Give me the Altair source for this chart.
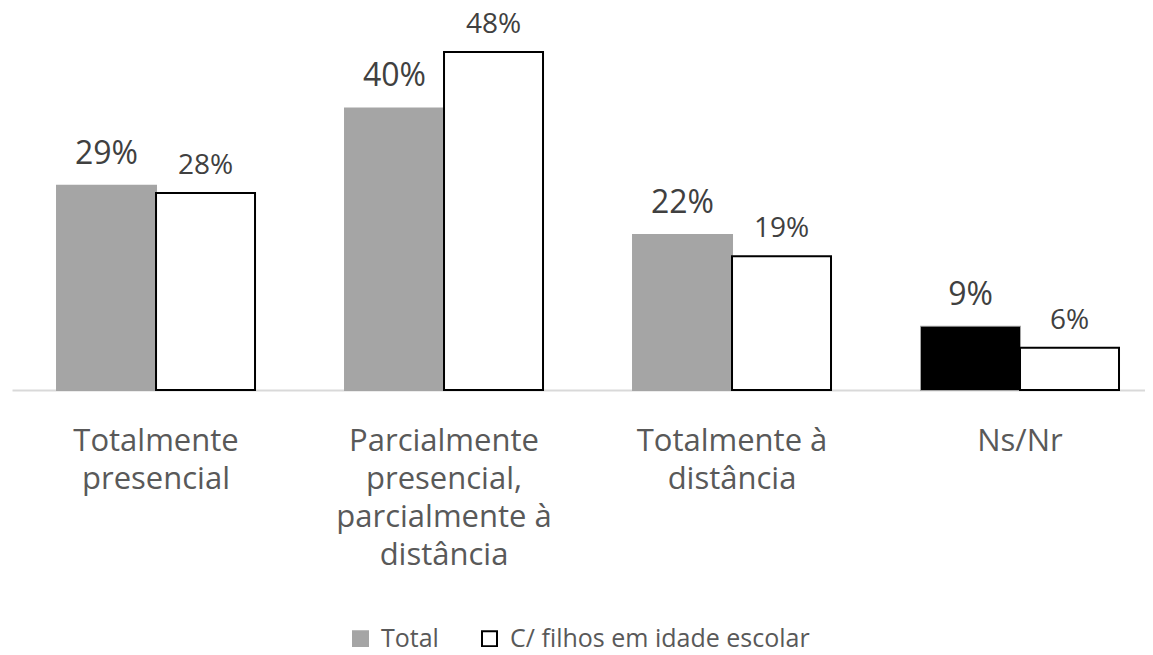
import altair as alt
import pandas as pd

categories = ["Totalmente|presencial",
              "Parcialmente|presencial,|parcialmente à|distância",
              "Totalmente à|distância",
              "Ns/Nr"]
series_names = ["Total", "C/ filhos em idade escolar"]
total_vals = [29, 40, 22, 9]
filhos_vals = [28, 48, 19, 6]

rows = []
for c, t, f in zip(categories, total_vals, filhos_vals):
    rows.append({"cat": c, "series": series_names[0], "value": t, "label": f"{t}%"})
    rows.append({"cat": c, "series": series_names[1], "value": f, "label": f"{f}%"})
df = pd.DataFrame(rows)

xscale = alt.Scale(domain=categories, paddingInner=0.3125, paddingOuter=0.1233, align=0.634)
xenc = alt.X("cat:N", sort=categories, scale=xscale,
             axis=alt.Axis(title=None, ticks=False, labelAngle=0,
                           labelExpr="split(datum.label, '|')",
                           labelFont="Open Sans", labelFontSize=31, labelColor="#595959",
                           labelLineHeight=38, labelPadding=36,
                           domainColor="#d9d9d9", domainWidth=2, labelLimit=400))
yenc = alt.Y("value:Q", scale=alt.Scale(domain=[0, 50], nice=False), axis=None)
xoff = alt.XOffset("series:N", sort=series_names,
                   scale=alt.Scale(domain=series_names, paddingInner=0, paddingOuter=0))

base = alt.Chart(df)

bars = base.mark_bar(strokeWidth=2).encode(
    x=xenc, y=yenc, xOffset=xoff,
    fill=alt.Fill("series:N", scale=alt.Scale(domain=series_names, range=["#a5a5a5", "#ffffff"]),
                  legend=alt.Legend(title=None, orient="none", direction="horizontal",
                                    legendX=336, legendY=588, padding=0,
                                    symbolType="square", symbolSize=225,
                                    symbolStrokeWidth=2, labelFont="Open Sans", labelFontSize=25,
                                    labelColor="#595959", columnPadding=38, labelOffset=8,
                                    labelLimit=500)),
    stroke=alt.Stroke("series:N", scale=alt.Scale(domain=series_names, range=["#a5a5a5", "#000000"])),
)

black = base.transform_filter(
    (alt.datum.cat == "Ns/Nr") & (alt.datum.series == "Total")
).mark_bar(color="#000000").encode(x=xenc, y=yenc, xOffset=xoff)

labels_total = base.transform_filter(alt.datum.series == series_names[0]).mark_text(
    baseline="alphabetic", dy=-22, font="Open Sans", fontSize=32, color="#404040"
).encode(x=xenc, y=yenc, xOffset=xoff, text="label:N")

labels_filhos = base.transform_filter(alt.datum.series == series_names[1]).mark_text(
    baseline="alphabetic", dy=-19, font="Open Sans", fontSize=28, color="#404040"
).encode(x=xenc, y=yenc, xOffset=xoff, text="label:N")

chart = alt.layer(bars, black, labels_total, labels_filhos).properties(
    width=1133, height=352,
    padding={"left": 4, "top": 30, "right": 0, "bottom": 257},
    autosize=alt.AutoSizeParams(type="none"),
).configure_view(stroke=None)

chart.save("out.html", embed_options={"renderer": "svg", "actions": False})
